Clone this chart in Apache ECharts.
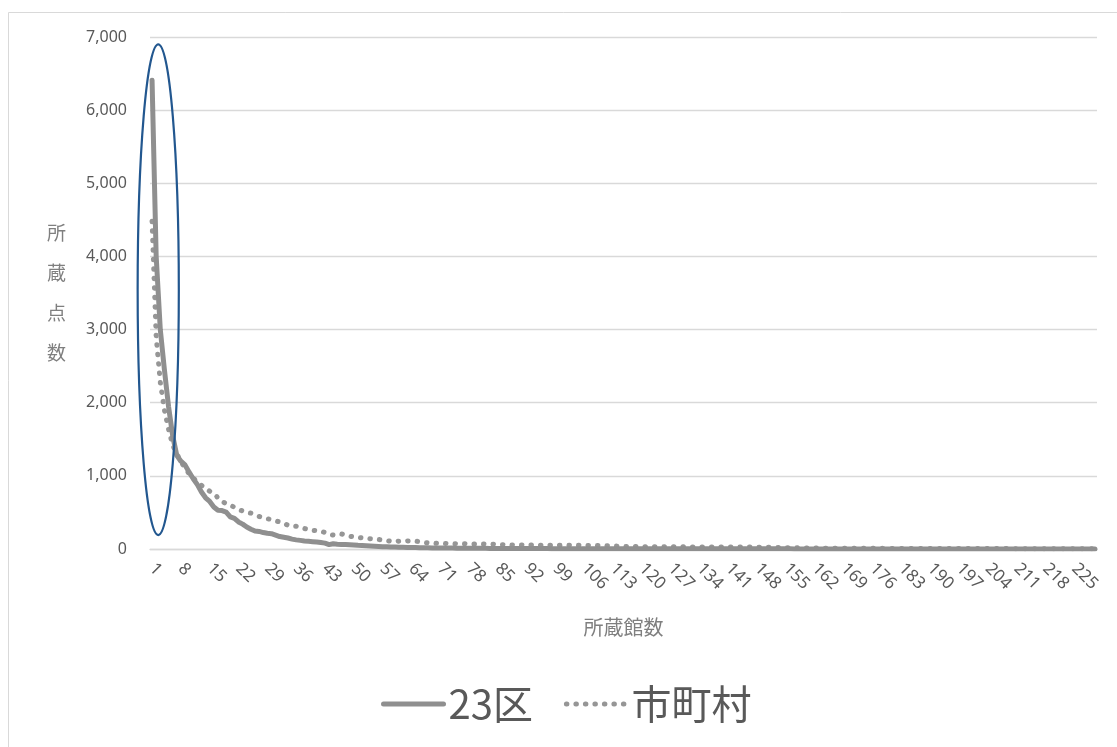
<!DOCTYPE html>
<html>
<head>
<meta charset="utf-8">
<script src="https://cdn.jsdelivr.net/npm/echarts@6/dist/echarts.min.js"></script>
<style>
html,body{margin:0;padding:0;background:#fff;}
#chart{width:1117px;height:747px;}
</style>
</head>
<body>
<div id="chart"></div>
<script>
// ---- data ----
const seriesNames = ['23区', '市町村'];
const ward23 = [
  6410, 4000, 3000, 2450, 1950, 1550, 1280, 1200, 1150, 1050,
  960, 880, 780, 700, 650, 575, 530, 525, 505, 440,
  420, 370, 340, 300, 270, 245, 240, 225, 215, 210,
  190, 170, 160, 150, 135, 125, 118, 110, 105, 100,
  95, 88, 80, 60, 72, 66, 62, 60, 58, 55,
  50, 47, 44, 40, 37, 35, 32, 30, 28, 27,
  25, 24, 22, 21, 20, 18, 17, 16, 15, 14,
  14, 13, 12, 12, 11, 11, 10, 10, 10, 9,
  9, 9, 8, 8, 8, 8, 7, 7, 7, 7,
  7, 6, 6, 6, 6, 6, 6, 5, 5, 5,
  5, 5, 5, 5, 5, 4, 4, 4, 4, 4,
  4, 4, 4, 4, 4, 4, 3, 3, 3, 3,
  3, 3, 3, 3, 3, 3, 3, 3, 3, 3,
  3, 2, 2, 2, 2, 2, 2, 2, 2, 2,
  2, 2, 2, 2, 2, 2, 2, 2, 2, 2,
  2, 2, 2, 2, 2, 2, 1, 1, 1, 1,
  1, 1, 1, 1, 1, 1, 1, 1, 1, 1,
  1, 1, 1, 1, 1, 1, 1, 1, 1, 1,
  1, 1, 1, 1, 1, 1, 1, 1, 1, 1,
  1, 1, 1, 1, 1, 1, 1, 1, 1, 1,
  1, 1, 1, 1, 1, 1, 1, 1, 1, 1,
  1, 1, 1, 1, 1, 1, 1, 1, 1, 1,
  1, 1, 1, 1, 1, 1, 1, 1, 1, 1
];
const municipal = [
  4480, 2900, 2280, 1900, 1640, 1420, 1300, 1200, 1100, 1030,
  970, 920, 870, 830, 790, 760, 700, 650, 620, 600,
  570, 540, 520, 500, 490, 465, 445, 430, 415, 400,
  385, 370, 350, 325, 310, 310, 300, 280, 265, 255,
  250, 245, 225, 200, 190, 200, 205, 195, 175, 165,
  160, 150, 148, 140, 137, 130, 123, 115, 105, 100,
  108, 112, 110, 112, 108, 100, 90, 85, 80, 78,
  76, 75, 74, 73, 72, 72, 71, 70, 70, 70,
  69, 68, 68, 66, 64, 60, 58, 56, 55, 55,
  54, 54, 53, 53, 52, 52, 51, 51, 50, 50,
  52, 52, 51, 51, 50, 50, 49, 48, 47, 46,
  45, 43, 41, 39, 37, 35, 34, 33, 33, 32,
  32, 31, 31, 31, 31, 30, 30, 30, 30, 30,
  30, 29, 29, 29, 29, 28, 28, 28, 28, 28,
  27, 27, 27, 26, 26, 26, 25, 25, 24, 24,
  23, 22, 21, 20, 19, 18, 17, 16, 15, 14,
  13, 13, 12, 12, 11, 11, 10, 10, 10, 10,
  9, 9, 9, 9, 9, 9, 9, 9, 8, 8,
  8, 8, 8, 8, 8, 8, 7, 7, 7, 7,
  7, 7, 7, 7, 7, 7, 6, 6, 6, 6,
  6, 6, 6, 6, 6, 6, 6, 6, 5, 5,
  5, 5, 5, 5, 5, 5, 5, 5, 5, 5,
  5, 5, 5, 5, 5, 5, 5, 5, 5, 5
];
const categories = [];
for (let i = 1; i <= ward23.length; i++) categories.push(String(i));
const yTicks = [0, 1000, 2000, 3000, 4000, 5000, 6000, 7000];
const yAxisTitle = '所\n蔵\n点\n数';
const xAxisTitle = '所蔵館数';

// ---- chart ----
const chart = echarts.init(document.getElementById('chart'));
const fontJP = '"Noto Sans CJK JP", "Noto Sans", sans-serif';
const solidStyle = { color: '#8f8f8f', width: 5, cap: 'round', join: 'round' };
const dotStyle = { color: '#969696', width: 5, type: [0.5, 9], cap: 'round' };
chart.setOption({
  animation: false,
  backgroundColor: '#ffffff',
  grid: { left: 150, right: 20, top: 37, bottom: 198 },
  legend: {
    left: 376, top: 679,
    itemWidth: 60, itemHeight: 14, itemGap: 31,
    textStyle: { fontSize: 40, color: '#595959', fontFamily: fontJP },
    itemStyle: { opacity: 0 },
    lineStyle: { width: 'inherit', type: 'inherit', cap: 'inherit' },
    data: seriesNames
  },
  xAxis: {
    type: 'category',
    data: categories,
    boundaryGap: true,
    axisLine: { show: true, lineStyle: { color: '#d9d9d9', width: 1.3 } },
    axisTick: { show: false },
    axisLabel: {
      interval: 6, rotate: -45, fontSize: 17, color: '#595959', margin: 17,
      fontFamily: '"Noto Sans", sans-serif'
    },
    name: xAxisTitle, nameLocation: 'middle', nameGap: 68,
    nameTextStyle: { fontSize: 20, color: '#7f7f7f', fontFamily: fontJP }
  },
  yAxis: {
    type: 'value',
    min: yTicks[0], max: yTicks[yTicks.length - 1], interval: 1000,
    axisLine: { show: false },
    axisTick: { show: false },
    splitLine: { lineStyle: { color: '#d9d9d9', width: 1.3 } },
    axisLabel: {
      fontSize: 16, color: '#595959', margin: 23,
      fontFamily: '"Noto Sans", sans-serif',
      formatter: v => v.toLocaleString('en-US')
    },
    name: yAxisTitle, nameLocation: 'middle', nameRotate: 0, nameGap: 84,
    nameTextStyle: { fontSize: 19, lineHeight: 40, color: '#7f7f7f', fontFamily: fontJP }
  },
  series: [
    {
      name: seriesNames[0], type: 'line', data: ward23, symbol: 'none',
      lineStyle: solidStyle, itemStyle: { color: solidStyle.color }, z: 3
    },
    {
      name: seriesNames[1], type: 'line', data: municipal, symbol: 'none',
      lineStyle: dotStyle, itemStyle: { color: dotStyle.color }, z: 2
    }
  ]
});

// annotation ellipse around the first categories, placed through the axes
const pA = chart.convertToPixel({ xAxisIndex: 0, yAxisIndex: 0 }, [1, 6900]);
const pB = chart.convertToPixel({ xAxisIndex: 0, yAxisIndex: 0 }, [2, 190]);
const p0 = chart.convertToPixel({ xAxisIndex: 0 }, 0);
const p10 = chart.convertToPixel({ xAxisIndex: 0 }, 10);
chart.setOption({
  graphic: [
    {
      type: 'rect', silent: true,
      shape: { x: 8.5, y: 12.5, width: 1200, height: 800 },
      style: { fill: 'none', stroke: '#d9d9d9', lineWidth: 1 }
    },
    {
      type: 'ellipse', silent: true, z: 10,
      shape: {
        cx: (pA[0] + pB[0]) / 2,
        cy: (pA[1] + pB[1]) / 2,
        rx: (p10 - p0) / 2,
        ry: (pB[1] - pA[1]) / 2
      },
      style: { fill: 'none', stroke: '#22578f', lineWidth: 2.2 }
    }
  ]
});
</script>
</body>
</html>
